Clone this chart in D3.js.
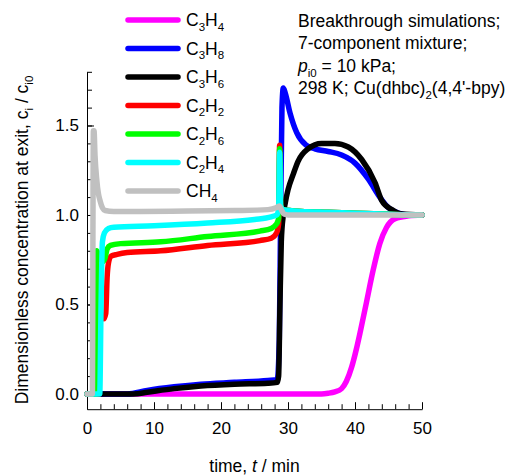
<!DOCTYPE html>
<html>
<head>
<meta charset="utf-8">
<script src="https://cdn.jsdelivr.net/npm/d3@7/dist/d3.min.js"></script>
<style>
  body { margin: 0; background: #fff; }
  text { font-family: "Liberation Sans", Arial, sans-serif; fill: #000; }
</style>
</head>
<body>
<script>
// breakthrough curves (t in min, c = ci/ci0)
const species = ["C3H4", "C3H8", "C3H6", "C2H2", "C2H6", "C2H4", "CH4"];
const colors = ["#ff00ff", "#0000ff", "#000000", "#ff0000", "#00ff00", "#00ffff", "#c0c0c0"];

const tC3H4 = [0, 35, 36, 37, 38, 38.7, 39.5, 40.2, 40.8, 41.7, 42.7, 43.7, 44.7, 46, 48, 50];
const cC3H4 = [0, 0, 0.004, 0.012, 0.03, 0.07, 0.15, 0.25, 0.35, 0.51, 0.69, 0.84, 0.93, 0.98, 0.995, 1.0];

const tC3H8 = [0, 6, 9, 13, 17, 22, 27, 28.4, 28.7, 28.9, 29.1, 29.3, 29.6, 30.3, 31.3, 32.7, 34, 36, 38, 40, 42, 43.7, 45, 46.5, 48, 50];
const cC3H8 = [0, 0, 0.02, 0.04, 0.055, 0.065, 0.075, 0.08, 0.3, 1.0, 1.6, 1.71, 1.68, 1.57, 1.46, 1.39, 1.37, 1.355, 1.335, 1.29, 1.2, 1.1, 1.04, 1.01, 1.0, 1.0];

const tC3H6 = [0, 7, 9, 13, 17, 22, 27, 28.4, 28.6, 28.8, 29.0, 29.3, 29.6, 30, 30.8, 31.5, 33, 35, 37, 39, 41, 43, 44, 45.5, 47, 50];
const cC3H6 = [0, 0, 0.01, 0.03, 0.045, 0.055, 0.06, 0.065, 0.1, 0.5, 0.85, 1.0, 1.07, 1.14, 1.23, 1.3, 1.37, 1.4, 1.4, 1.38, 1.31, 1.18, 1.08, 1.03, 1.005, 1.0];

const tC2H2 = [0, 1.6, 1.72, 2.0, 2.5, 2.8, 3.0, 3.2, 3.6, 4.5, 6, 11, 18, 25.8, 27.5, 28.3, 28.6, 28.75, 28.9, 29.3, 32, 36, 40, 44, 47, 50];
const cC2H2 = [0, 0, 0.45, 0.44, 0.42, 0.45, 0.65, 0.73, 0.77, 0.78, 0.79, 0.8, 0.83, 0.857, 0.87, 0.9, 0.95, 1.39, 1.05, 1.03, 1.02, 1.015, 1.01, 1.005, 1.002, 1.0];

const tC2H6 = [0, 1.35, 1.45, 1.7, 2.4, 2.7, 3.0, 3.5, 5, 11, 18, 25.8, 27.5, 28.3, 28.6, 28.75, 28.9, 29.3, 32, 36, 40, 44, 47, 50];
const cC2H6 = [0, 0, 0.8, 0.78, 0.74, 0.76, 0.81, 0.83, 0.84, 0.85, 0.88, 0.91, 0.925, 0.95, 0.98, 1.37, 1.05, 1.03, 1.02, 1.015, 1.01, 1.005, 1.002, 1.0];

const tC2H4 = [0, 1.9, 2.1, 2.3, 2.6, 3.2, 4, 10, 18, 25, 27.5, 28.3, 28.6, 28.75, 28.9, 29.3, 32, 36, 40, 44, 47, 50];
const cC2H4 = [0, 0, 0.5, 0.85, 0.9, 0.925, 0.932, 0.94, 0.955, 0.975, 0.99, 1.0, 1.03, 1.35, 1.05, 1.03, 1.02, 1.015, 1.01, 1.005, 1.002, 1.0];

const tCH4 = [0, 0.8, 0.95, 1.05, 1.2, 1.45, 1.7, 1.95, 2.3, 2.7, 4, 8, 15, 22, 27, 28.2, 28.7, 29.0, 29.4, 30, 40, 50];
const cCH4 = [0, 0, 1.47, 1.47, 1.33, 1.2, 1.12, 1.08, 1.04, 1.025, 1.02, 1.02, 1.022, 1.025, 1.03, 1.04, 1.05, 1.03, 1.005, 1.0, 1.0, 1.0];

const times = [tC3H4, tC3H8, tC3H6, tC2H2, tC2H6, tC2H4, tCH4];
const concs = [cC3H4, cC3H8, cC3H6, cC2H2, cC2H6, cC2H4, cCH4];

const xTicks = [0, 10, 20, 30, 40, 50];
const xMinor = d3.range(0, 51, 2);
const yTicks = [0, 0.5, 1.0, 1.5];
const yMinor = d3.range(0, 19).map(d => d / 10);

const w = 508;
const h = 475;

const svg = d3.select("body")
  .append("svg")
  .attr("width", w)
  .attr("height", h);

const x = d3.scaleLinear().domain([0, 50]).range([87, 422]);
const y = d3.scaleLinear().domain([-0.085, 1.8]).range([409.2, 71.8]);

// text with sub/italic pieces
function rich(sel, parts, subSize) {
  let shifted = false;
  parts.forEach(p => {
    const ts = sel.append("tspan").text(p.t);
    if (p.sub) {
      ts.attr("font-size", subSize).attr("dy", shifted ? 0 : 4.5);
      shifted = true;
    } else {
      if (shifted) ts.attr("dy", -4.5);
      shifted = false;
    }
    if (p.it) ts.attr("font-style", "italic");
  });
}
function formula(name) {
  return name.match(/[A-Z]+|\d+/g).map(s => ({ t: s, sub: /\d/.test(s) }));
}

// axes
svg.append("g")
  .attr("transform", `translate(0,${y.range()[0]})`)
  .call(d3.axisBottom(x).tickValues(xTicks).tickSizeInner(-7).tickSizeOuter(0).tickPadding(13));
svg.append("g")
  .attr("transform", `translate(0,${y.range()[0]})`)
  .call(d3.axisBottom(x).tickValues(xMinor).tickSizeInner(-5).tickSizeOuter(0).tickFormat(""))
  .call(g => g.select(".domain").remove());

svg.append("g")
  .attr("transform", `translate(${x(0)},0)`)
  .call(d3.axisLeft(y).tickValues(yTicks).tickSizeInner(-7).tickSizeOuter(0).tickPadding(8).tickFormat(d3.format(".1f")));
svg.append("g")
  .attr("transform", `translate(${x(0)},0)`)
  .call(d3.axisLeft(y).tickValues(yMinor).tickSizeInner(-5).tickSizeOuter(0).tickFormat(""))
  .call(g => g.select(".domain").remove());

svg.selectAll(".tick text")
  .attr("font-size", "17px")
  .attr("font-family", "Liberation Sans, Arial, sans-serif");
svg.selectAll(".domain, .tick line").attr("stroke", "#000");

// curves
const line = d3.line()
  .x(d => x(d[0]))
  .y(d => y(d[1]))
  .curve(d3.curveMonotoneX);

species.forEach((s, i) => {
  const pts = times[i].map((t, j) => [t, concs[i][j]]);
  svg.append("path")
    .datum(pts)
    .attr("fill", "none")
    .attr("stroke", colors[i])
    .attr("stroke-width", 5.5)
    .attr("stroke-linejoin", "round")
    .attr("stroke-linecap", "round")
    .attr("d", line);
});

// legend
const legend = svg.append("g").attr("class", "legend");
species.forEach((s, i) => {
  const ly = 20 + i * 28.5;
  legend.append("line")
    .attr("x1", 128).attr("x2", 178)
    .attr("y1", ly).attr("y2", ly)
    .attr("stroke", colors[i])
    .attr("stroke-width", 5.5)
    .attr("stroke-linecap", "round");
  const t = legend.append("text")
    .attr("x", 186)
    .attr("y", ly + 6)
    .attr("font-size", "17.5px");
  rich(t, formula(s), "11.5px");
});

// annotation
const note = svg.append("g").attr("font-size", "17.5px");
note.append("text").attr("x", 298).attr("y", 27).text("Breakthrough simulations;");
note.append("text").attr("x", 298).attr("y", 49).text("7-component mixture;");
rich(note.append("text").attr("x", 298).attr("y", 72),
  [{ t: "p", it: true }, { t: "i0", sub: true }, { t: " = 10 kPa;" }], "11.5px");
rich(note.append("text").attr("x", 298).attr("y", 94),
  [{ t: "298 K; Cu(dhbc)" }, { t: "2", sub: true }, { t: "(4,4'-bpy)" }], "11.5px");

// axis titles
const xt = svg.append("text")
  .attr("x", (x.range()[0] + x.range()[1]) / 2)
  .attr("y", 472)
  .attr("text-anchor", "middle")
  .attr("font-size", "17.5px");
rich(xt, [{ t: "time, " }, { t: "t", it: true }, { t: " / min" }], "11.5px");

const yt = svg.append("text")
  .attr("transform", "rotate(-90)")
  .attr("x", -240)
  .attr("y", 28)
  .attr("text-anchor", "middle")
  .attr("font-size", "17.5px");
rich(yt, [{ t: "Dimensionless concentration at exit, c" }, { t: "i", sub: true }, { t: " / c" }, { t: "i0", sub: true }], "11.5px");
</script>
</body>
</html>
